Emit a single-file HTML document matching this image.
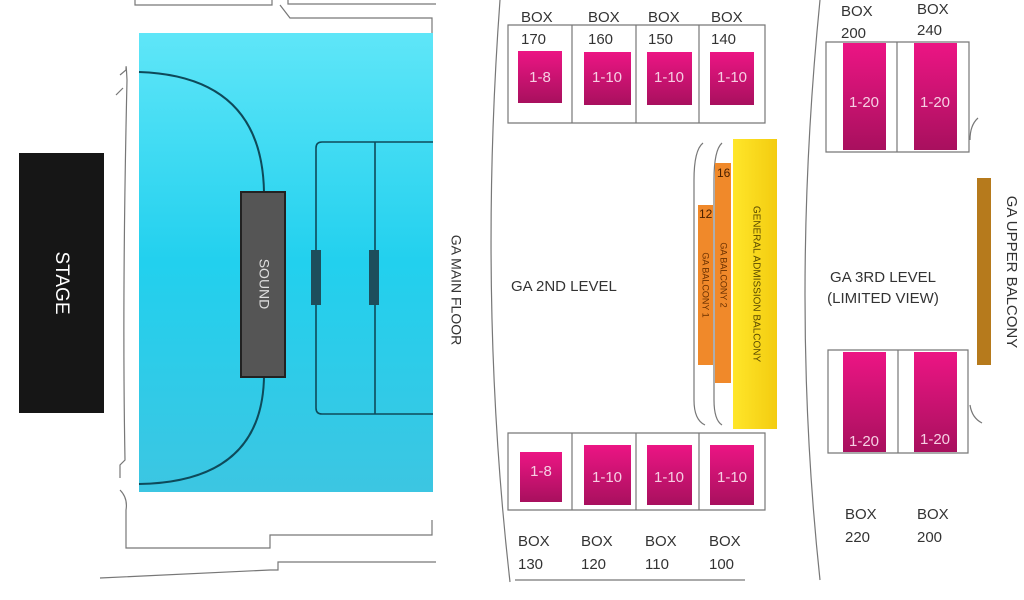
<!DOCTYPE html>
<html><head><meta charset="utf-8"><style>
html,body{margin:0;padding:0;background:#fff;}
svg{display:block;}
text{font-family:"Liberation Sans",sans-serif;}
</style></head><body>
<svg width="1024" height="600" viewBox="0 0 1024 600" xmlns="http://www.w3.org/2000/svg">
<defs>
<linearGradient id="blue" x1="0" y1="0" x2="0" y2="1"><stop offset="0" stop-color="#5fe6f8"/><stop offset="0.5" stop-color="#22d0ee"/><stop offset="1" stop-color="#3cc6e2"/></linearGradient>
<linearGradient id="pink" x1="0" y1="0" x2="0" y2="1"><stop offset="0" stop-color="#ec1584"/><stop offset="1" stop-color="#a8105e"/></linearGradient>
<linearGradient id="yel" x1="0" y1="0" x2="1" y2="0"><stop offset="0" stop-color="#ffe62a"/><stop offset="1" stop-color="#f3cc10"/></linearGradient>
</defs>
<g fill="none" stroke="#777" stroke-width="1.2">
<path d="M135,0 V5 H272 V0"/><path d="M288,0 V4 H436"/>
<path d="M280,5 L290,18 H432 V35"/>
<path d="M120,75 L126,70 Q126,60 127,80 Q122,300 125,460 L120,465 V478"/>
<path d="M116,95 L123,88"/>
<path d="M120,490 Q128,498 126,510 V548 H270 V535 H432 V520"/>
<path d="M100,578 L270,570 H278 V562 H436"/>
<path d="M500,0 Q478,300 510,582"/>
<path d="M515,580 H745"/>
<path d="M820,0 Q790,300 820,580"/>
<path d="M703,143 Q694,150 694,180 V400 Q694,420 705,425"/>
<path d="M722,143 Q714,150 714,180 V400 Q714,420 722,425"/>
<path d="M978,118 Q970,125 970,140"/><path d="M970,405 Q972,418 982,423"/>
</g>
<rect x="19" y="153" width="85" height="260" fill="#161616"/>
<text x="61" y="283" transform="rotate(90 61 283)" fill="#fff" font-size="19" text-anchor="middle" dominant-baseline="middle">STAGE</text>
<rect x="139" y="33" width="294" height="459" fill="url(#blue)"/>
<path d="M139,72 Q262,76 264,192 M264,377 Q262,482 139,484" fill="none" stroke="#0e4a5a" stroke-width="2"/>
<rect x="241" y="192" width="44" height="185" fill="#555"/>
<rect x="241" y="192" width="44" height="185" fill="none" stroke="#222" stroke-width="2"/>
<text x="263" y="284" transform="rotate(90 263 284)" fill="#ddd" font-size="14" text-anchor="middle" dominant-baseline="middle">SOUND</text>
<path d="M433,142 H322 Q316,142 316,148 V408 Q316,414 322,414 H433 M375,142 V414" fill="none" stroke="#0e4a5a" stroke-width="1.6"/>
<rect x="311" y="250" width="10" height="55" fill="#1d4e5c"/>
<rect x="369" y="250" width="10" height="55" fill="#1d4e5c"/>
<text x="455" y="290" transform="rotate(90 455 290)" fill="#333" font-size="14" text-anchor="middle" dominant-baseline="middle">GA MAIN FLOOR</text>
<g fill="none" stroke="#777" stroke-width="1.2">
<path d="M508,25 H765 V123 H508 Z M572,25 V123 M636,25 V123 M699,25 V123"/>
<path d="M508,433 H765 V510 H508 Z M572,433 V510 M636,433 V510 M699,433 V510"/>
<path d="M826,42 H969 V152 H826 Z M897,42 V152"/>
<path d="M828,350 H968 V453 H828 Z M898,350 V453"/>
</g>
<g fill="url(#pink)">
<rect x="518" y="51" width="44" height="52"/><rect x="584" y="52" width="47" height="53"/><rect x="647" y="52" width="45" height="53"/><rect x="710" y="52" width="44" height="53"/>
<rect x="518" y="403" width="0" height="0"/>
<rect x="520" y="452" width="42" height="50"/><rect x="584" y="445" width="47" height="60"/><rect x="647" y="445" width="45" height="60"/><rect x="710" y="445" width="44" height="60"/>
<rect x="843" y="43" width="43" height="107"/><rect x="914" y="43" width="43" height="107"/>
<rect x="843" y="352" width="43" height="100"/><rect x="914" y="352" width="43" height="100"/>
</g>
<g fill="#f6cfe3" font-size="15" text-anchor="middle">
<text x="540" y="82">1-8</text><text x="607" y="82">1-10</text><text x="669" y="82">1-10</text><text x="732" y="82">1-10</text>
<text x="541" y="476">1-8</text><text x="607" y="482">1-10</text><text x="669" y="482">1-10</text><text x="732" y="482">1-10</text>
<text x="864" y="107">1-20</text><text x="935" y="107">1-20</text>
<text x="864" y="446">1-20</text><text x="935" y="444">1-20</text>
</g>
<g fill="#333" font-size="15">
<text x="521" y="22">BOX</text><text x="588" y="22">BOX</text><text x="648" y="22">BOX</text><text x="711" y="22">BOX</text>
<text x="521" y="44">170</text><text x="588" y="44">160</text><text x="648" y="44">150</text><text x="711" y="44">140</text>
<text x="518" y="546">BOX</text><text x="581" y="546">BOX</text><text x="645" y="546">BOX</text><text x="709" y="546">BOX</text>
<text x="518" y="569">130</text><text x="581" y="569">120</text><text x="645" y="569">110</text><text x="709" y="569">100</text>
<text x="841" y="16">BOX</text><text x="917" y="14">BOX</text>
<text x="841" y="38">200</text><text x="917" y="35">240</text>
<text x="845" y="519">BOX</text><text x="917" y="519">BOX</text>
<text x="845" y="542">220</text><text x="917" y="542">200</text>
<text x="511" y="291">GA 2ND LEVEL</text>
<text x="883" y="282" text-anchor="middle">GA 3RD LEVEL</text>
<text x="883" y="303" text-anchor="middle">(LIMITED VIEW)</text>
</g>
<rect x="733" y="139" width="44" height="290" fill="url(#yel)"/>
<rect x="715" y="163" width="16" height="220" fill="#f0892a"/>
<rect x="698" y="205" width="15" height="160" fill="#f0892a"/>
<text x="756" y="284" transform="rotate(90 756 284)" fill="#5a4a00" font-size="10" text-anchor="middle" dominant-baseline="middle">GENERAL ADMISSION BALCONY</text>
<text x="723" y="275" transform="rotate(90 723 275)" fill="#6a3000" font-size="9" text-anchor="middle" dominant-baseline="middle">GA BALCONY 2</text>
<text x="705" y="285" transform="rotate(90 705 285)" fill="#6a3000" font-size="9" text-anchor="middle" dominant-baseline="middle">GA BALCONY 1</text>
<text x="717" y="177" fill="#4a2000" font-size="12">16</text>
<text x="699" y="218" fill="#4a2000" font-size="12">12</text>
<rect x="977" y="178" width="14" height="187" fill="#b67a1c"/>
<text x="1011" y="272" transform="rotate(90 1011 272)" fill="#333" font-size="15" text-anchor="middle" dominant-baseline="middle">GA UPPER BALCONY</text>
</svg>
</body></html>
